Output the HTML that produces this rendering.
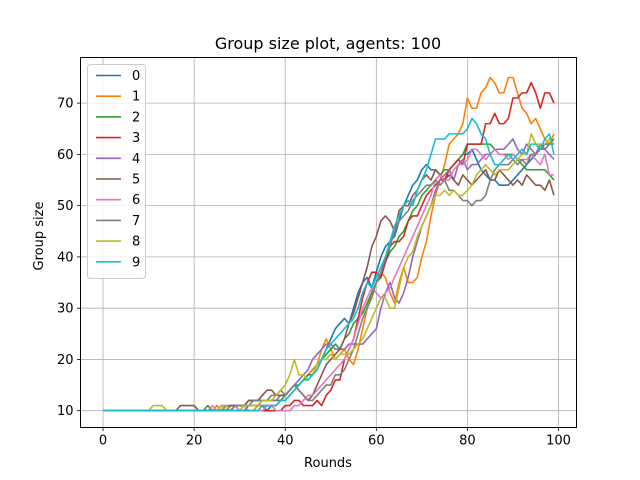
<!DOCTYPE html>
<html><head><meta charset="utf-8"><style>body{margin:0;background:#fff}svg{display:block;font-family:"DejaVu Sans","Liberation Sans",sans-serif}</style></head>
<body>
<svg id="chart" width="640" height="480" xmlns="http://www.w3.org/2000/svg">
<rect width="640" height="480" fill="#fff"/>
<text x="328" y="49" font-size="16" text-anchor="middle">Group size plot, agents: 100</text>
<text x="328" y="467" font-size="13" text-anchor="middle">Rounds</text>
<text x="43" y="236" font-size="13" text-anchor="middle" transform="rotate(-90 43 236)">Group size</text>
<g id="grid"></g><g id="series"></g>
<rect x="80.5" y="57.5" width="496" height="370" fill="none" stroke="#000" stroke-width="1"/>
<g id="ticks"></g><g id="legend"></g>
</svg>
<script>
const xTicks=[0,20,40,60,80,100];
const yTicks=[10,20,30,40,50,60,70];
const seriesNames=["0","1","2","3","4","5","6","7","8","9"];
const colors=["#1f77b4","#ff7f0e","#2ca02c","#d62728","#9467bd","#8c564b","#e377c2","#7f7f7f","#bcbd22","#17becf"];
const T=[10,10,10,10,10,10,10,10,10,10,10,10,10,10,10,10,10,10,10,10];
const s0=T.concat([10,10,10,10,10,10,11,10,10,11,10,10,11,11,11,11,10,11,11,12,12,13,14,15,16,17,18,19,20,22,24,26,27,28,27,30,33,35,36,34,37,40,42,43,44,47,50,52,54,55,57,58,57,57,56,55,57,58,59,60,60,61,59,57,56,55,55,54,54,54,55,56,57,58,59,60,61,62,62,63]);
const s1=T.concat([10,10,10,10,10,11,10,10,10,10,10,10,10,10,11,11,11,11,11,12,12,13,14,15,16,17,18,19,22,24,22,20,21,22,20,19,22,26,30,33,35,37,36,33,31,35,38,35,35,36,40,43,48,52,55,58,62,63,64,66,71,69,69,72,73,75,74,72,72,75,75,72,69,68,66,67,65,63,62,64]);
const s2=T.concat([10,10,10,11,10,10,10,11,10,10,10,11,11,11,11,12,12,12,12,12,13,14,15,15,16,17,17,18,20,21,22,23,22,24,25,27,28,29,31,33,35,36,39,41,42,44,45,47,49,50,52,53,54,55,56,57,57,58,59,60,62,62,62,62,62,62,61,60,60,60,60,59,58,57,57,57,57,57,56,55]);
const s3=T.concat([10,10,10,10,10,10,10,10,10,10,10,10,10,10,10,10,10,10,10,10,11,11,12,12,11,11,11,12,11,13,14,16,16,20,22,24,28,32,35,37,37,36,39,42,43,43,44,47,48,48,50,52,53,54,55,55,57,58,59,58,62,62,62,62,66,66,68,66,66,67,71,71,72,72,74,72,69,72,72,70]);
const s4=T.concat([10,10,10,10,10,10,11,11,11,11,11,11,12,12,12,12,12,12,12,13,13,14,15,16,17,18,20,21,22,23,23,22,22,22,23,23,23,23,24,25,26,30,33,35,32,31,33,36,40,43,46,48,50,53,55,56,57,55,58,59,57,58,58,59,60,60,61,61,61,62,63,61,60,62,61,60,62,61,60,59]);
const s5=[10,10,10,10,10,10,10,10,10,10,10,10,10,10,10,10,10,11,11,11,11,10,10,10,10,10,10,10,11,11,11,11,12,12,12,13,14,14,13,13,13,14,15,14,13,12,13,15,17,19,20,21,22,24,27,29,32,35,38,42,44,47,48,47,45,49,50,50,52,53,55,56,55,57,56,55,56,55,54,56,55,54,55,56,57,55,55,57,56,55,54,55,54,56,55,54,54,53,55,52];
const s6=T.concat([10,10,10,10,11,10,11,10,10,11,10,11,10,10,10,10,11,11,10,10,10,10,11,11,12,13,13,14,15,16,17,18,19,20,22,24,27,30,32,34,33,32,33,34,36,38,40,42,44,46,48,50,52,55,56,55,55,57,58,58,59,61,61,60,59,60,61,60,60,59,60,59,59,59,60,59,58,60,56,56]);
const s7=T.concat([10,10,10,10,10,10,10,10,10,11,11,11,11,12,12,12,12,13,13,14,13,14,15,14,13,12,12,13,14,15,15,17,17,18,20,22,25,28,30,32,35,37,40,42,45,47,48,49,51,52,53,54,54,55,54,55,53,53,52,51,51,50,51,51,52,55,57,58,58,58,59,58,59,58,60,60,61,61,62,62]);
const s8=[10,10,10,10,10,10,10,10,10,10,10,11,11,11,10,10,10,10,10,10,10,10,10,10,10,10,11,11,10,10,10,11,11,11,11,12,12,12,13,14,15,17,20,17,17,16,17,19,20,20,21,20,21,21,21,22,23,24,26,28,30,32,32,30,30,34,38,40,41,44,46,48,50,52,52,53,52,53,52,52,53,54,56,57,58,57,56,57,57,57,58,59,60,60,64,62,62,62,63,62];
const s9=T.concat([10,10,10,10,10,10,10,10,10,10,10,10,10,10,10,11,11,11,11,12,12,13,14,15,16,16,17,18,20,22,23,24,25,26,27,28,30,33,35,34,36,38,40,43,46,48,50,51,50,53,55,57,60,63,63,63,64,64,64,64,65,67,66,64,63,60,58,58,59,60,59,60,61,60,62,62,61,63,64,60]);
const seriesValues=[s0,s1,s2,s3,s4,s5,s6,s7,s8,s9];

const NS="http://www.w3.org/2000/svg";
const L=80.5,R=576.5,Tp=57.5,B=427.5;
const xMin=-4.95,xMax=103.95,yMin=6.72,yMax=78.9;
function xs(v){return L+(v-xMin)/(xMax-xMin)*(R-L);}
function ys(v){return B-(v-yMin)/(yMax-yMin)*(B-Tp);}
function mk(tag,attrs,parent){const e=document.createElementNS(NS,tag);for(const k in attrs)e.setAttribute(k,attrs[k]);parent.appendChild(e);return e;}
const grid=document.getElementById('grid'),ticks=document.getElementById('ticks'),ser=document.getElementById('series'),leg=document.getElementById('legend');
xTicks.forEach(t=>{const x=xs(t);
 const g=mk('line',{x1:x,x2:x,y1:Tp,y2:B,stroke:'#b0b0b0','stroke-width':0.8},grid);
 
 
 mk('line',{x1:x,x2:x,y1:B,y2:B+3.5,stroke:'#000','stroke-width':0.8},ticks);
 const tx=mk('text',{x:x,y:B+17,'font-size':13,'text-anchor':'middle'},ticks);tx.textContent=t;
 
 
});
yTicks.forEach(t=>{const y=ys(t);
 const g=mk('line',{x1:L,x2:R,y1:y,y2:y,stroke:'#b0b0b0','stroke-width':0.8},grid);
 
 
 mk('line',{x1:L-3.5,x2:L,y1:y,y2:y,stroke:'#000','stroke-width':0.8},ticks);
 const tx=mk('text',{x:L-7,y:y+4.5,'font-size':13,'text-anchor':'end'},ticks);tx.textContent=t;
 
 
});
seriesValues.forEach((vals,i)=>{
 const pts=vals.map((v,j)=>xs(j).toFixed(2)+','+ys(v).toFixed(2)).join(' ');
 const p=mk('polyline',{points:pts,fill:'none',stroke:colors[i],'stroke-width':1.6,'stroke-linejoin':'round'},ser);
 
 
});
const box=mk('rect',{x:87.5,y:64.5,width:58,height:214,rx:3,fill:'#fff','fill-opacity':0.8,stroke:'#ccc'},leg);


seriesNames.forEach((n,i)=>{const y=75.5+i*20.7;
 const ln=mk('line',{x1:96,x2:121,y1:y,y2:y,stroke:colors[i],'stroke-width':1.6},leg);
 
 
 const tx=mk('text',{x:132,y:y+4.5,'font-size':13},leg);tx.textContent=n;
 
 
});
</script>
</body></html>
